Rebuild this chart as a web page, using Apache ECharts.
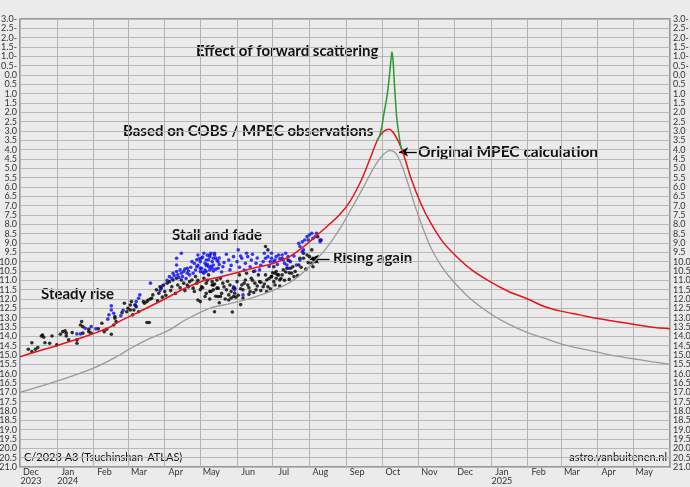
<!DOCTYPE html>
<html>
<head>
<meta charset="utf-8">
<script src="https://cdn.jsdelivr.net/npm/echarts@6/dist/echarts.min.js"></script>
<style>
html,body{margin:0;padding:0;background:#ebebeb;}
#chart{width:690px;height:487px;}
</style>
</head>
<body>
<div id="chart"></div>
<script>
// Day offsets are days since 2023-12-01; magnitudes (smaller = brighter)
const MONTHS = ['Jan','Feb','Mar','Apr','May','Jun','Jul','Aug','Sep','Oct','Nov','Dec'];
const magTicks = { min: -3, max: 21, step: 0.5 };

// Based on COBS / MPEC observations (red)
const redCurve = [[0,15.1],[15,14.8],[31,14.5],[46,14.2],[62,13.85],[76,13.5],[84,13.2],[100,12.7],[122,12.0],[140,11.4],[156,11.0],[170,10.8],[185,10.55],[200,10.3],[213,10.1],[228,9.7],[240,9.15],[250,8.6],[260,8.05],[270,7.45],[278,6.8],[288,5.6],[295,4.5],[302,3.4],[307,3.0],[311,2.9],[316,3.2],[322,4.0],[330,5.6],[338,6.9],[346,7.9],[356,8.9],[366,9.6],[380,10.4],[397,11.1],[412,11.6],[428,12.0],[442,12.4],[456,12.65],[472,12.85],[487,13.05],[502,13.2],[517,13.35],[532,13.5],[548,13.6]];

// Original MPEC calculation (gray)
const grayCurve = [[0,17.0],[31,16.4],[62,15.7],[84,15.0],[93,14.65],[110,14.1],[126,13.65],[140,13.1],[160,12.5],[177,12.25],[195,11.95],[213,11.55],[228,11.1],[240,10.5],[247,10.07],[258,9.3],[270,8.2],[280,7.1],[290,5.95],[298,5.0],[305,4.35],[312,4.05],[318,4.3],[326,5.6],[334,7.2],[346,9.2],[356,10.3],[366,11.1],[380,12.0],[397,12.8],[412,13.35],[428,13.8],[442,14.1],[456,14.4],[472,14.65],[487,14.85],[502,15.05],[517,15.2],[532,15.35],[548,15.5]];

// Effect of forward scattering (green)
const greenCurve = [[301,3.5],[303,3.3],[305,2.8],[307,2.0],[309,1.3],[310.5,0.6],[312,-0.3],[313.5,-1.25],[314.5,-0.8],[315.5,0.3],[316.5,1.3],[317.5,2.2],[319,3.0],[321,3.8],[322,4.0]];

// Observations, black
const blackObs = [[7,14.69],[10,14.34],[10,14.82],[13,14.69],[15,14.6],[18,13.98],[20,14.05],[21,14.34],[19,13.93],[25,14.37],[27,13.98],[31,14.46],[34,13.89],[36,13.75],[38,13.7],[39,13.83],[39,13.98],[41,14.19],[44,13.8],[48,14.37],[48,14.19],[51,13.39],[52,13.21],[53,13.48],[53,13.83],[58,13.75],[58,13.62],[60,13.83],[66,13.6],[69,13.3],[71,13.75],[73,13.62],[77,13.89],[79,13.39],[80,13.03],[81,13.21],[80,12.94],[88,12.23],[93,12.59],[95,12.85],[107,13.26],[109,13.26],
[86,12.73],[90,12.68],[91,12.5],[93,12.32],[94,12.14],[96,12.59],[97,12.32],[98,12.41],[100,12.68],[104,12.14],[105,12.23],[107,12.14],[108,12.05],[110,12.0],[111,11.96],[112,11.78],[115,11.51],[117,11.69],[118,11.34],[119,11.42],[121,11.25],[122,11.6],[124,11.15],[126,11.07],[128,11.34],[129,10.98],[132,10.89],[133,11.25],[136,10.98],[138,11.15],[141,11.25],[143,11.07],[145,10.98],[146,11.42],[148,10.8],[149,11.15],[152,12.14],[153,11.34],[155,10.89],[156,11.87],[157,11.15],[159,10.71],[162,11.25],[163,11.51],[166,10.98],[167,11.42],[164,12.68],[150,12.05],
[207,9.19],[209,9.37],[163,11.25],[166,11.42],[167,11.87],[169,10.89],[171,11.15],[174,11.51],[176,11.78],[177,11.25],[180,11.42],[181,11.69],[183,11.07],[185,10.71],[187,11.25],[188,11.51],[190,10.98],[191,10.62],[192,11.25],[194,11.6],[195,10.89],[197,10.53],[198,11.15],[199,11.51],[201,10.71],[202,11.07],[205,11.34],[207,10.71],[208,10.98],[209,11.34],[212,10.8],[214,11.07],[215,10.62],[216,10.89],[218,10.71],[219,10.98],[221,10.71],[222,10.44],[225,10.35],[226,9.91],[176,12.05],[180,11.87],[181,11.42],[169,11.87],[160,11.6],[162,11.07],
[239,9.55],[242,9.64],[244,9.73],[246,9.37],[247,9.82],[249,10.0],[246,10.09],[247,10.27],[239,9.82],[236,9.82],[235,10.18],[228,10.35],[230,10.27],[232,10.53],[229,10.62],[216,10.53],[214,10.27],[212,10.8],[251,8.66],[253,8.84],
[150,11.0],[154,11.4],[158,11.0],[161,11.6],[164,11.2],[170,11.7],[172,11.35],[175,11.05],[178,11.6],[182,11.9],[186,11.45],[189,11.15],[193,11.4],[196,11.0],[200,11.3],[203,11.55],[206,11.2],[210,10.9],[213,10.6],[217,10.7],[220,10.9],[224,10.55],[227,10.6],
[116,12.1],[120,11.9],[123,11.8],[127,11.55],[131,11.7],[135,11.4],[139,11.55],[142,11.35],[147,11.6],[152,11.5],[157,11.7],[160,12.0],[165,11.85],[168,12.2],[173,12.0],[178,11.95],[184,11.8],[188,11.95],[193,11.75],[197,11.65],[203,11.1],[208,11.6],[211,11.45],[215,11.25],[219,11.3],[223,11.0],[227,10.95],[231,10.8],[234,10.75],[237,10.3],[241,10.4],[243,10.05],[248,9.9],[179,12.7],[186,12.3]];

// Observations, blue
const blueObs = [[48,13.87],[51,13.87],[55,13.57],[60,13.48],[74,13.08],[75,12.85],[77,12.59],[77,12.37],[79,12.76],[97,12.32],[98,12.14],[100,11.96],[101,11.78],[110,11.15],
[126,10.8],[129,10.62],[132,10.53],[133,10.71],[135,10.44],[136,10.62],[138,10.53],[132,10.18],[141,10.35],[141,10.62],[143,10.71],[146,10.62],[149,10.27],[150,9.64],[152,10.0],[152,10.53],[153,9.82],[155,9.55],[155,10.62],[156,10.09],[157,9.91],[157,10.53],[159,10.27],[160,9.73],[160,10.44],[162,10.0],[163,10.18],[164,9.64],[166,9.91],[167,10.35],[132,9.82],[136,9.55],
[160,9.64],[163,9.82],[162,10.35],[164,9.55],[167,10.0],[171,10.27],[176,9.91],[177,10.44],[180,9.73],[183,10.0],[184,9.37],[187,9.82],[190,10.09],[191,9.55],[192,9.73],[194,10.27],[195,9.91],[199,10.09],[202,10.44],[205,10.0],[207,9.82],[209,9.73],[211,10.0],[212,9.55],[215,9.91],[218,9.64],[221,9.82],[223,10.09],[226,9.73],[180,11.34],[181,11.51],[188,11.78],
[212,9.82],[214,10.0],[216,9.73],[221,9.64],[222,9.91],[225,10.18],[226,10.35],[228,10.0],[233,10.18],[236,9.91],[235,9.02],[236,9.19],[238,8.93],[239,9.37],[238,9.46],[240,8.84],[242,8.66],[243,8.84],[244,8.57],[246,8.48],[247,8.75],[249,8.66],[250,8.48],[253,8.93],[254,8.84],
[128,10.9],[130,10.75],[134,10.85],[137,10.8],[139,10.4],[140,10.9],[142,10.5],[144,10.3],[147,10.1],[148,10.45],[150,10.2],[151,9.85],[153,10.35],[154,9.75],[156,10.45],[158,9.65],[158,10.15],[161,10.25],[165,10.4],[168,9.8],[170,10.55],
[172,10.05],[174,9.6],[178,10.2],[185,10.3],[186,9.7],[189,10.45],[196,9.6],[198,10.5],[200,9.8],[203,10.2],[206,9.55],[210,10.25],[217,10.15],[219,9.85],[224,9.55],[227,9.95],[231,9.7],[145,10.0],[149,9.9],[152,10.35],[154,10.55],[157,10.2],[159,9.9],[161,9.55],[163,10.5],[165,9.8],[168,10.15],[120,11.3],[124,11.0],[118,11.55],[64,13.6],[85,12.9],[87,12.6]];

// Arrows: [tipDay, tipMag, tailDay, tailMag]
const arrowRising = [244.5, 9.86, 261, 9.86];
const arrowOriginal = [319.6, 4.12, 334.5, 4.12];

const base = new Date(2023, 11, 1).getTime();
const endT = new Date(2025, 5, 1).getTime();
const DAY = 86400000;
const toT = d => base + d * DAY;
const conv = arr => arr.map(p => [toT(p[0]), p[1]]);

const fmtMag = v => v < 0 ? (-v).toFixed(1) + '-' : v.toFixed(1);
const labelFont = 'Lato';

const chart = echarts.init(document.getElementById('chart'), null, {renderer: 'canvas'});
const yBase = {
  type: 'value', inverse: true, min: magTicks.min, max: magTicks.max, interval: magTicks.step,
  axisTick: {show: false}, axisLine: {show: false}
};
chart.setOption({
  animation: false,
  backgroundColor: '#ebebeb',
  grid: {left: 20, right: 20, top: 19, bottom: 20, outerBoundsMode: 'none', containLabel: false,
    show: true, backgroundColor: '#ebebeb', borderColor: '#7f7f7f', borderWidth: 1.5, z: 0},
  xAxis: {
    type: 'time', min: base, max: endT, splitNumber: 18,
    axisLine: {show: false}, axisTick: {show: false},
    splitLine: {show: true, lineStyle: {color: '#b3b3b3', width: 1}},
    axisLabel: {
      show: true, hideOverlap: false,
      color: '#333', fontSize: 9, fontFamily: labelFont, lineHeight: 9,
      align: 'center', margin: 1, padding: [0, 0, 0, 22],
      formatter: function (val) {
        if (val >= endT - DAY) return '';
        const dt = new Date(val); const mo = dt.getMonth(); const yr = dt.getFullYear();
        let s = MONTHS[mo];
        if (mo === 0 || (yr === 2023 && mo === 11)) s += '\n' + yr;
        return s;
      }
    }
  },
  yAxis: [
    Object.assign({}, yBase, {position: 'left',
      splitLine: {show: true, lineStyle: {color: '#b8b8b8', width: 1}},
      axisLabel: {color: '#333', fontSize: 9, fontFamily: labelFont, margin: 3, formatter: fmtMag}}),
    Object.assign({}, yBase, {position: 'right', splitLine: {show: false},
      axisLabel: {color: '#333', fontSize: 9, fontFamily: labelFont, margin: 3, formatter: fmtMag}})
  ],
  series: [
    {type: 'scatter', name: 'black', data: conv(blackObs), symbol: 'circle', symbolSize: 3.6,
      itemStyle: {color: '#000'}, silent: true, z: 3},
    {type: 'scatter', name: 'blue', data: conv(blueObs), symbol: 'circle', symbolSize: 3.6,
      itemStyle: {color: '#0a0af5'}, silent: true, z: 4},
    {type: 'line', name: 'gray', data: conv(grayCurve), smooth: 0.35, showSymbol: false,
      lineStyle: {color: '#9a9a9a', width: 1.3}, silent: true, z: 5,
      markLine: {silent: true, symbol: ['arrow', 'none'], symbolSize: [7, 9], label: {show: false},
        lineStyle: {color: '#000', width: 1.3, type: 'solid'},
        emphasis: {disabled: true},
        data: [
          [{coord: [toT(arrowRising[0]), arrowRising[1]]}, {coord: [toT(arrowRising[2]), arrowRising[3]]}],
          [{coord: [toT(arrowOriginal[0]), arrowOriginal[1]]}, {coord: [toT(arrowOriginal[2]), arrowOriginal[3]]}]
        ]}},
    {type: 'line', name: 'red', data: conv(redCurve), smooth: 0.35, showSymbol: false,
      lineStyle: {color: '#e8141c', width: 1.5}, silent: true, z: 6},
    {type: 'line', name: 'green', data: conv(greenCurve), smooth: 0.2, showSymbol: false,
      lineStyle: {color: '#2c9a2c', width: 1.5}, silent: true, z: 7}
  ],
  graphic: [
    {type: 'text', left: 196, top: 44, style: {text: 'Effect of forward scattering', font: 'bold 15px Lato', fill: '#111'}},
    {type: 'text', left: 123, top: 124, style: {text: 'Based on COBS / MPEC observations', font: 'bold 15px Lato', fill: '#111'}},
    {type: 'text', left: 418, top: 144, style: {text: 'Original MPEC calculation', font: 'bold 15.5px Lato', fill: '#111'}},
    {type: 'text', left: 172, top: 228, style: {text: 'Stall and fade', font: 'bold 15px Lato', fill: '#111'}},
    {type: 'text', left: 41, top: 287, style: {text: 'Steady rise', font: 'bold 15px Lato', fill: '#111'}},
    {type: 'text', left: 333, top: 251, style: {text: 'Rising again', font: 'bold 15px Lato', fill: '#111'}},
    {type: 'text', left: 24, top: 452, style: {text: 'C/2023 A3 (Tsuchinshan-ATLAS)', font: '11px Lato', fill: '#111'}},
    {type: 'text', right: 23, top: 452, style: {text: 'astro.vanbuitenen.nl', font: '11px Lato', fill: '#111'}}
  ]
});
</script>
</body>
</html>
